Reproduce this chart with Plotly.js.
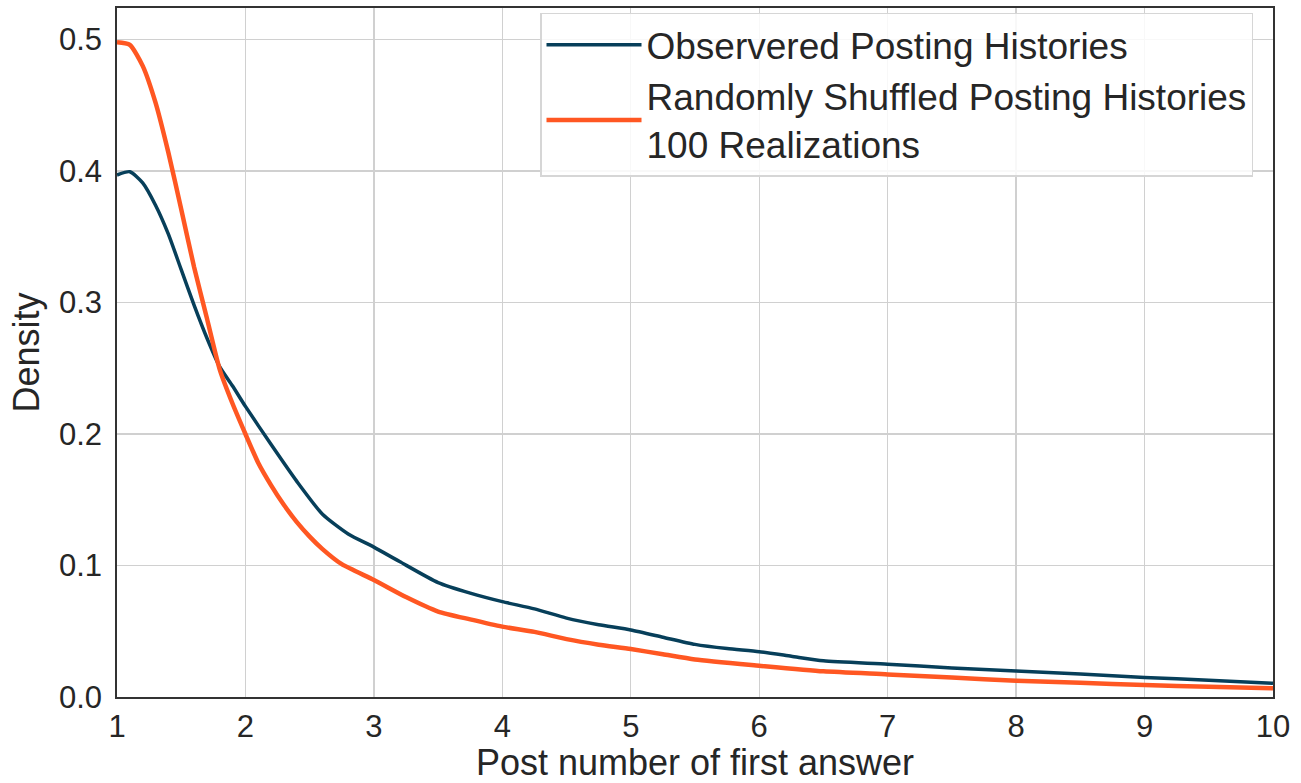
<!DOCTYPE html>
<html>
<head>
<meta charset="utf-8">
<script src="https://cdn.plot.ly/plotly-3.0.1.min.js"></script>
<style>html,body{margin:0;padding:0;background:#fff;}#chart{width:1301px;height:783px;}</style>
</head>
<body>
<div id="chart"></div>
<script>
const observedX = [1.0, 1.1, 1.2, 1.3, 1.4, 1.5, 1.6, 1.7, 1.8, 1.9, 2.0, 2.2, 2.4, 2.6, 2.8, 3.0, 3.2, 3.5, 3.75, 4.0, 4.25, 4.5, 4.75, 5.0, 5.25, 5.5, 5.75, 6.0, 6.25, 6.5, 7.0, 7.5, 8.0, 8.5, 9.0, 9.5, 10.0];
const observedY = [0.397, 0.3995, 0.391, 0.374, 0.352, 0.325, 0.298, 0.273, 0.251, 0.2365, 0.221, 0.192, 0.164, 0.139, 0.124, 0.114, 0.103, 0.087, 0.079, 0.0725, 0.067, 0.060, 0.055, 0.051, 0.0455, 0.040, 0.0368, 0.0345, 0.031, 0.0275, 0.025, 0.022, 0.0198, 0.0175, 0.0148, 0.0128, 0.0104];

const shuffledX = [1.0, 1.1, 1.2, 1.3, 1.4, 1.5, 1.6, 1.7, 1.8, 1.9, 2.0, 2.1, 2.2, 2.3, 2.4, 2.5, 2.6, 2.75, 3.0, 3.25, 3.5, 3.75, 4.0, 4.25, 4.5, 4.75, 5.0, 5.25, 5.5, 6.0, 6.5, 7.0, 7.5, 8.0, 8.5, 9.0, 9.5, 10.0];
const shuffledY = [0.498, 0.496, 0.48, 0.452, 0.414, 0.371, 0.327, 0.288, 0.249, 0.223, 0.200, 0.178, 0.161, 0.146, 0.133, 0.122, 0.1125, 0.101, 0.089, 0.076, 0.065, 0.059, 0.0535, 0.0495, 0.044, 0.0398, 0.0365, 0.0325, 0.0285, 0.0238, 0.0195, 0.0172, 0.0148, 0.0124, 0.0108, 0.0091, 0.0078, 0.0066];

const seriesNames = ["Observered Posting Histories", "Randomly Shuffled Posting Histories<br>100 Realizations"];
const xTitle = "Post number of first answer";
const yTitle = "Density";

const font = "Liberation Sans, Arial, sans-serif";

const traces = [
  {x: observedX, y: observedY, name: seriesNames[0], mode: "lines", line: {color: "#073f5a", width: 3.5, shape: "spline", smoothing: 0.6}},
  {x: shuffledX, y: shuffledY, name: seriesNames[1], mode: "lines", line: {color: "#ff5722", width: 4.5, shape: "spline", smoothing: 0.6}}
];

const axisCommon = {
  showline: true, mirror: true, linecolor: "#333333", linewidth: 1.8,
  showgrid: true, gridcolor: "#d0d0d0", gridwidth: 1.4,
  zeroline: false,
  ticks: "outside", tickcolor: "rgba(0,0,0,0)",
  tickfont: {family: font, size: 31, color: "#262626"}
};

const layout = {
  width: 1301, height: 783,
  margin: {l: 117, r: 28, t: 8, b: 86},
  paper_bgcolor: "#ffffff", plot_bgcolor: "#ffffff",
  showlegend: true,
  xaxis: Object.assign({}, axisCommon, {
    range: [1, 10], dtick: 1, tick0: 1, ticklen: 1,
    title: {text: xTitle, font: {family: font, size: 36, color: "#262626"}, standoff: 6}
  }),
  yaxis: Object.assign({}, axisCommon, {
    range: [0, 0.524], dtick: 0.1, tick0: 0, tickformat: ".1f", ticklen: 7,
    title: {text: yTitle, font: {family: font, size: 36, color: "#262626"}, standoff: 8}
  }),
  legend: {
    x: 0.9827, y: 0.993, xanchor: "right", yanchor: "top",
    bgcolor: "rgba(255,255,255,0.85)", bordercolor: "#d6d6d6", borderwidth: 1.5,
    font: {family: font, size: 37, color: "#262626"},
    itemwidth: 95
  }
};

Plotly.newPlot("chart", traces, layout, {displayModeBar: false, staticPlot: true});
</script>
</body>
</html>
